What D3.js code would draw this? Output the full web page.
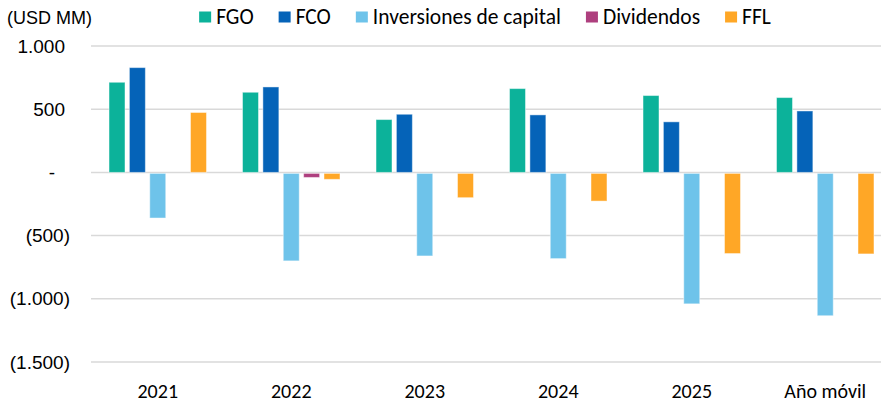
<!DOCTYPE html>
<html>
<head>
<meta charset="utf-8">
<script src="https://cdn.jsdelivr.net/npm/d3@7"></script>
<style>
    body { margin: 0; background: #fff; }
    svg { display: block; }
    .cal { font-family: Carlito, Calibri, Lato, sans-serif; }
    .ari { font-family: "Liberation Sans", Arial, sans-serif; }
</style>
</head>
<body>
<div id="chart"></div>
<script>
// Chart data
const categories = ["2021", "2022", "2023", "2024", "2025", "Año móvil"];
const seriesNames = ["FGO", "FCO", "Inversiones de capital", "Dividendos", "FFL"];
const seriesColors = ["#0cb29a", "#0563b8", "#6ec3ea", "#ae3f7e", "#ffa726"];
const fgo = [713, 634, 418, 663, 608, 592];
const fco = [829, 676, 460, 455, 400, 486];
const inversiones = [-353, -692, -653, -674, -1032, -1126];
const dividendos = [0, -32, 0, 0, 0, 0];
const ffl = [474, -47, -192, -219, -634, -637];
const yTicks = [1000, 500, 0, -500, -1000, -1500];

const width = 881, height = 403;
const margin = { top: 46, right: -11, bottom: 41, left: 91 };

const series = [fgo, fco, inversiones, dividendos, ffl];
const rows = categories.map((c, i) => ({
    cat: c,
    vals: seriesNames.map((s, j) => ({ key: s, value: series[j][i] }))
}));

const svg = d3.select('#chart').append('svg')
    .attr('width', width)
    .attr('height', height);

const x0 = d3.scaleBand()
    .domain(categories)
    .range([margin.left, width - margin.right])
    .paddingInner(0.27)
    .paddingOuter(0.135);

const x1 = d3.scaleBand()
    .domain(seriesNames)
    .range([0, x0.bandwidth()])
    .paddingInner(0.216);

const y = d3.scaleLinear()
    .domain([-1500, 1000])
    .range([height - margin.bottom, margin.top]);

const color = d3.scaleOrdinal().domain(seriesNames).range(seriesColors);

// gridlines
svg.append('g')
    .selectAll('line')
    .data(yTicks)
    .join('line')
    .attr('x1', margin.left)
    .attr('x2', width)
    .attr('y1', d => y(d))
    .attr('y2', d => y(d))
    .attr('stroke', '#d9d9d9')
    .attr('stroke-width', 1.5);

// y axis labels (accounting style)
const fmt = v => {
    if (v === 0) return '-';
    const s = d3.format(',')(Math.abs(v)).replace(/,/g, '.');
    return v < 0 ? '(' + s + ')' : s;
};
const yAxis = svg.append('g')
    .attr('class', 'ari')
    .attr('transform', 'translate(70,0)')
    .call(d3.axisLeft(y).tickValues(yTicks).tickSize(0).tickPadding(0).tickFormat(fmt));
yAxis.select('.domain').remove();
yAxis.selectAll('text')
    .attr('font-size', 19)
    .attr('fill', '#000')
    .attr('dx', d => d > 0 ? -5 : d === 0 ? -15 : 0);

// bars
const groups = svg.append('g')
    .selectAll('g')
    .data(rows)
    .join('g')
    .attr('transform', d => `translate(${x0(d.cat)},0)`);

groups.selectAll('rect')
    .data(d => d.vals.filter(v => v.value !== 0))
    .join('rect')
    .attr('x', d => x1(d.key))
    .attr('width', x1.bandwidth())
    .attr('y', d => d.value >= 0 ? y(d.value) : y(0) + 1)
    .attr('height', d => Math.abs(y(d.value) - y(0)))
    .attr('fill', d => color(d.key))
    .attr('stroke', '#fff')
    .attr('stroke-opacity', 0.45)
    .attr('stroke-width', 1);

// x axis labels
const xAxis = svg.append('g')
    .attr('class', 'cal')
    .attr('transform', `translate(0,${height - margin.bottom})`)
    .call(d3.axisBottom(x0).tickSize(0).tickPadding(22));
xAxis.select('.domain').remove();
xAxis.selectAll('text')
    .attr('font-size', 20)
    .attr('fill', '#000');

// unit title
svg.append('text')
    .attr('class', 'ari')
    .attr('x', 7)
    .attr('y', 24)
    .attr('font-size', 18)
    .text('(USD MM)');

// legend
const legend = svg.append('g').attr('class', 'cal');
let lx = 0;
seriesNames.forEach(name => {
    const item = legend.append('g').attr('transform', `translate(${lx},0)`);
    item.append('rect')
        .attr('x', 0).attr('y', 11.5)
        .attr('width', 12).attr('height', 11)
        .attr('fill', color(name));
    const t = item.append('text')
        .attr('x', 17).attr('y', 24)
        .attr('font-size', 21.5)
        .text(name);
    lx += 17 + t.node().getComputedTextLength() + 25;
});
const legendWidth = lx - 25;
legend.attr('transform', `translate(${485 - legendWidth / 2},0)`);
</script>
</body>
</html>
